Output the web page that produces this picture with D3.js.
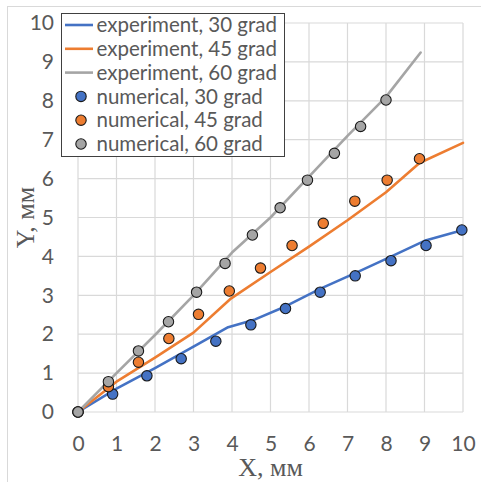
<!DOCTYPE html>
<html>
<head>
<meta charset="utf-8">
<script src="https://cdn.jsdelivr.net/npm/d3@7"></script>
<style>
  html, body { margin: 0; padding: 0; background: #fff; }
  svg { display: block; }
</style>
</head>
<body>
<svg id="chart" width="481" height="482"></svg>
<script>
// Measured trajectories (lines) and simulation results (markers), in mm
const exp30X = [0, 1, 2, 3, 3.9, 4.6, 5.4, 6.3, 7.2, 8.1, 9, 10];
const exp30Y = [0, 0.6, 1.13, 1.68, 2.18, 2.38, 2.72, 3.17, 3.57, 3.98, 4.4, 4.68];
const exp45X = [0, 1, 2, 3, 3.95, 5, 6, 7, 8, 8.87, 10];
const exp45Y = [0, 0.78, 1.4, 2.04, 2.9, 3.6, 4.25, 4.93, 5.65, 6.4, 6.92];
const exp60X = [0, 1, 2, 3, 4, 5, 6, 7, 8, 8.9];
const exp60Y = [0, 1.0, 1.98, 3.0, 4.1, 5.0, 6.05, 7.1, 8.1, 9.24];

const num30X = [0, 0.9, 1.79, 2.68, 3.58, 4.49, 5.39, 6.29, 7.2, 8.13, 9.04, 9.97];
const num30Y = [0, 0.46, 0.93, 1.37, 1.82, 2.24, 2.66, 3.08, 3.5, 3.89, 4.28, 4.68];
const num45X = [0, 0.79, 1.57, 2.36, 3.13, 3.93, 4.74, 5.56, 6.37, 7.19, 8.03, 8.87];
const num45Y = [0, 0.65, 1.28, 1.89, 2.51, 3.11, 3.7, 4.28, 4.85, 5.42, 5.96, 6.51];
const num60X = [0, 0.79, 1.57, 2.35, 3.08, 3.82, 4.53, 5.25, 5.96, 6.66, 7.34, 8.0];
const num60Y = [0, 0.78, 1.57, 2.32, 3.08, 3.82, 4.55, 5.25, 5.96, 6.65, 7.34, 8.02];

const xTicks = [0, 1, 2, 3, 4, 5, 6, 7, 8, 9, 10];
const yTicks = [0, 1, 2, 3, 4, 5, 6, 7, 8, 9, 10];

const legendLabels = [
  "experiment, 30 grad", "experiment, 45 grad", "experiment, 60 grad",
  "numerical, 30 grad", "numerical, 45 grad", "numerical, 60 grad"
];
const colors = ["#4472C4", "#ED7D31", "#A5A5A5"];

const zip = (xs, ys) => xs.map((x, i) => ({ x, y: ys[i] }));
const lines = [zip(exp30X, exp30Y), zip(exp45X, exp45Y), zip(exp60X, exp60Y)];
const points = [zip(num30X, num30Y), zip(num45X, num45Y), zip(num60X, num60Y)];

const svg = d3.select("#chart");
const W = 481, H = 482;
const plot = { left: 78, right: 463, top: 23, bottom: 412 };

// chart frame
svg.append("rect")
  .attr("x", 7.5).attr("y", 6.5)
  .attr("width", 520).attr("height", 520)
  .attr("fill", "#fff").attr("stroke", "#d9d9d9").attr("stroke-width", 1);

const x = d3.scaleLinear().domain([0, 10]).range([plot.left, plot.right]);
const y = d3.scaleLinear().domain([0, 10]).range([plot.bottom, plot.top]);

// gridlines
const grid = svg.append("g").attr("stroke", "#d9d9d9").attr("stroke-width", 1.2);
grid.selectAll("line.v").data(xTicks).join("line")
  .attr("x1", d => x(d)).attr("x2", d => x(d))
  .attr("y1", plot.top).attr("y2", plot.bottom);
grid.selectAll("line.h").data(yTicks).join("line")
  .attr("y1", d => y(d)).attr("y2", d => y(d))
  .attr("x1", plot.left).attr("x2", plot.right);

const tickFont = "Lato, 'Open Sans', sans-serif";

// axes via d3 axis generators, styled as plain labels
const xAxis = svg.append("g")
  .attr("transform", `translate(0,${plot.bottom})`)
  .call(d3.axisBottom(x).tickValues(xTicks).tickSize(0).tickPadding(24).tickFormat(d3.format("d")));
const yAxis = svg.append("g")
  .attr("transform", `translate(${plot.left},0)`)
  .call(d3.axisLeft(y).tickValues(yTicks).tickSize(0).tickPadding(24).tickFormat(d3.format("d")));
[xAxis, yAxis].forEach(a => {
  a.select(".domain").remove();
  a.selectAll("text")
    .attr("font-family", tickFont)
    .attr("font-size", 21)
    .attr("fill", "#595959");
});
xAxis.selectAll("text").attr("dy", "0.72em");

// axis titles
svg.append("text")
  .attr("x", (plot.left + plot.right) / 2).attr("y", 476)
  .attr("text-anchor", "middle")
  .attr("font-family", "'Liberation Serif', 'DejaVu Serif', serif")
  .attr("font-size", 26).attr("fill", "#595959")
  .text("X, мм");
svg.append("text")
  .attr("transform", `translate(34,${(plot.top + plot.bottom) / 2}) rotate(-90)`)
  .attr("text-anchor", "middle")
  .attr("font-family", "'Liberation Serif', 'DejaVu Serif', serif")
  .attr("font-size", 26).attr("fill", "#595959")
  .text("Y, мм");

// experiment lines
const lineGen = d3.line().x(d => x(d.x)).y(d => y(d.y));
svg.append("g").selectAll("path").data(lines).join("path")
  .attr("d", lineGen)
  .attr("fill", "none")
  .attr("stroke", (d, i) => colors[i])
  .attr("stroke-width", 2.6)
  .attr("stroke-linejoin", "round")
  .attr("stroke-linecap", "round");

// numerical markers
points.forEach((series, i) => {
  svg.append("g").selectAll("circle").data(series).join("circle")
    .attr("cx", d => x(d.x)).attr("cy", d => y(d.y))
    .attr("r", 5.2)
    .attr("fill", colors[i])
    .attr("stroke", "#1a1a1a").attr("stroke-width", 1.1);
});

// legend
const lg = svg.append("g");
lg.append("rect")
  .attr("x", 61.5).attr("y", 13.5).attr("width", 223).attr("height", 143)
  .attr("fill", "#fff").attr("stroke", "#404040").attr("stroke-width", 1);
const rowY = i => 25 + i * 23.8;
legendLabels.forEach((label, i) => {
  const cy = rowY(i);
  if (i < 3) {
    lg.append("line")
      .attr("x1", 65).attr("x2", 93).attr("y1", cy).attr("y2", cy)
      .attr("stroke", colors[i]).attr("stroke-width", 2.6);
  } else {
    lg.append("circle")
      .attr("cx", 81).attr("cy", cy).attr("r", 5.2)
      .attr("fill", colors[i - 3])
      .attr("stroke", "#1a1a1a").attr("stroke-width", 1.1);
  }
  lg.append("text")
    .attr("x", 96.5).attr("y", cy).attr("dy", "0.35em")
    .attr("font-family", tickFont).attr("font-size", 20.5)
    .attr("fill", "#595959")
    .text(label);
});
</script>
</body>
</html>
